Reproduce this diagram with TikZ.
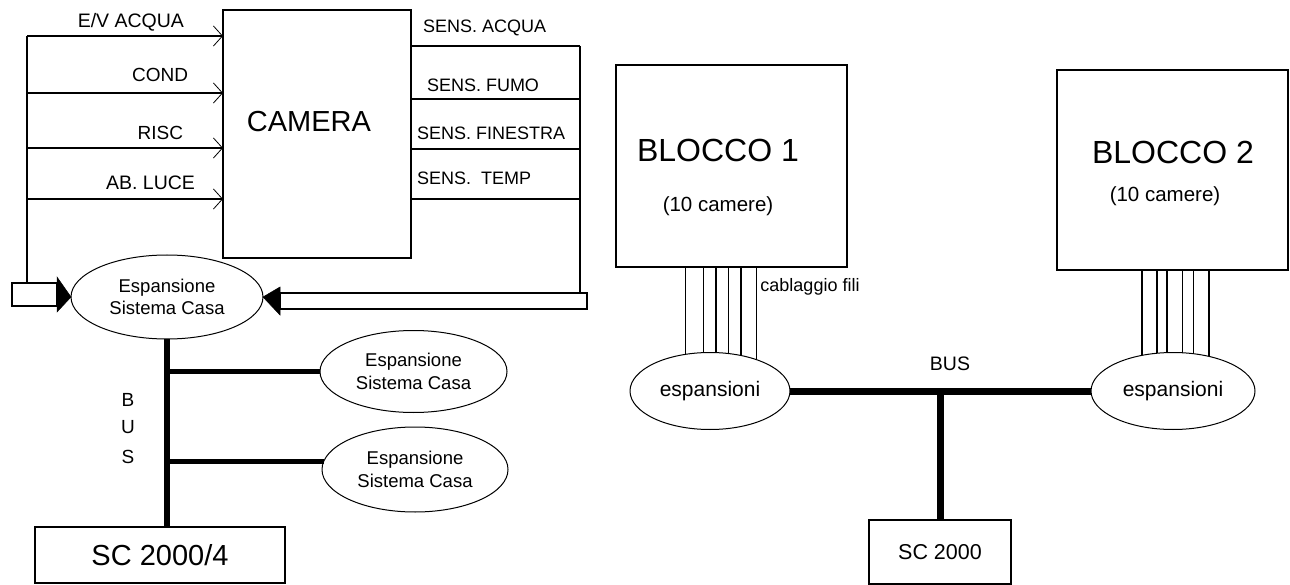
\documentclass[tikz,border=0pt]{standalone}
\usepackage{fontspec}
\setmainfont{Liberation Sans}
\usetikzlibrary{shapes.geometric,arrows.meta}
\newcommand{\myfs}[1]{\fontsize{#1}{#1}\selectfont}
\tikzset{
  box/.style={draw, line width=1.2pt, inner sep=0pt, outer sep=0pt},
  ell/.style={draw, ellipse, line width=1pt, inner sep=0pt, outer sep=0pt, align=center},
  wire/.style={line width=1.2pt},
  fwire/.style={line width=1.3pt},
  lbus/.style={line width=5.5pt},
  rbus/.style={line width=7pt},
  inarr/.style={line width=1.2pt, -{Straight Barb[length=9pt,width=20pt,line width=0.8pt]}},
  txt/.style={inner sep=0pt, outer sep=0pt},
  blockhead/.style={fill=black, draw=black, line width=0.5pt},
}
\begin{document}
\begin{tikzpicture}[x=1pt,y=-1pt]
\useasboundingbox (0,0) rectangle (1290,585);

% ---------------- left part ----------------
\node[box, minimum width=188pt, minimum height=248pt] (camera) at (317,134) {};
\node[txt, font=\myfs{29}] (camlbl) at (309,122) {CAMERA};

% input lines
\coordinate (i1) at (27,36);
\coordinate (i2) at (27,93);
\coordinate (i3) at (27,148);
\coordinate (i4) at (27,199);
\node[box, minimum width=45pt, minimum height=23pt] (arrL) at (34.5,294.5) {};
\draw[wire] (i1) -- (arrL.north -| i1);
\foreach \c in {i1,i2,i3,i4} \draw[inarr] (\c) -- (\c -| camera.west);

\node[txt, anchor=east, font=\myfs{19.5}] (lb1) at (184,22) {E/V ACQUA};
\node[txt, anchor=east, font=\myfs{19}] (lb2) at (188,75) {COND};
\node[txt, anchor=east, font=\myfs{19}] (lb3) at (183,133) {RISC};
\node[txt, anchor=east, font=\myfs{19.5}] (lb4) at (195,183) {AB. LUCE};

% sensor lines
\coordinate (s1) at (580,46);
\coordinate (s2) at (580,99);
\coordinate (s3) at (580,149);
\coordinate (s4) at (580,199);
\node[box, minimum width=307pt, minimum height=16pt] (arrR) at (433.5,301) {};
\draw[wire] (s1) -- (arrR.north -| s1);
\foreach \c in {s1,s2,s3,s4} \draw[wire] (camera.east |- \c) -- (\c);

\node[txt, anchor=west, font=\myfs{18}] (sl1) at (423,28) {SENS. ACQUA};
\node[txt, anchor=west, font=\myfs{18}] (sl2) at (427,85) {SENS. FUMO};
\node[txt, anchor=west, font=\myfs{18}] (sl3) at (417,133) {SENS. FINESTRA};
\node[txt, anchor=west, font=\myfs{18}] (sl4) at (417,178) {SENS.\ \ TEMP};

% expansion ellipses
\node[ell, minimum width=192pt, minimum height=84pt, font=\myfs{18.5}] (esp1) at (167,297) {Espansione\\[4pt]Sistema Casa};
\node[ell, minimum width=187pt, minimum height=82pt, font=\myfs{18.5}] (esp2) at (413.5,371.5) {Espansione\\[4pt]Sistema Casa};
\node[ell, minimum width=186pt, minimum height=85pt, font=\myfs{18.5}] (esp3) at (415,469.5) {Espansione\\[4pt]Sistema Casa};

% block arrow heads
\filldraw[blockhead] ([yshift=17.5pt]arrL.east) -- (esp1.west) -- ([yshift=-17.5pt]arrL.east) -- cycle;
\filldraw[blockhead] ([yshift=14pt]arrR.west) -- (esp1.east) -- ([yshift=-14pt]arrR.west) -- cycle;

% SC 2000/4
\node[box, minimum width=250pt, minimum height=56pt, font=\myfs{29}] (sc4) at (160,555) {SC 2000/4};

% bus
\draw[lbus] (esp1.south) -- (esp1.south |- sc4.north);
\draw[lbus] (esp1.south |- esp2.west) -- (esp2.west);
\draw[lbus] (esp1.south |- esp3.175) -- (esp3.175);
\node[txt, font=\myfs{19}] (bB) at (128,400) {B};
\node[txt, font=\myfs{19}] (bU) at (128,427) {U};
\node[txt, font=\myfs{19}] (bS) at (128,457) {S};

% ---------------- right part ----------------
\node[box, minimum width=231pt, minimum height=202pt] (blocco1) at (731.5,166) {};
\node[txt, font=\myfs{32}] (b1t) at (718,150) {BLOCCO 1};
\node[txt, font=\myfs{20.5}] (b1s) at (718,206) {(10 camere)};

\node[box, minimum width=231pt, minimum height=200pt] (blocco2) at (1172.5,170) {};
\node[txt, font=\myfs{32}] (b2t) at (1173,152) {BLOCCO 2};
\node[txt, font=\myfs{20.5}] (b2s) at (1165,196) {(10 camere)};

\node[ell, minimum width=160pt, minimum height=77pt, font=\myfs{21}] (espA) at (710,391) {espansioni};
\node[ell, minimum width=164pt, minimum height=77pt, font=\myfs{21}] (espB) at (1173,391) {espansioni};

\foreach \a in {124.7,100.5,81,64.1,49.6,34.9}
  \draw[fwire] (espA.\a |- blocco1.south) -- (espA.\a);
\foreach \a in {131.4,113.2,99,76.6,61.5,44.5}
  \draw[fwire] (espB.\a |- blocco2.south) -- (espB.\a);

\node[txt, font=\myfs{18}] (cab) at (810,287) {cablaggio fili};

\node[box, minimum width=142pt, minimum height=64pt, font=\myfs{21.5}] (sc) at (940,552) {SC 2000};
\draw[rbus] (espA.east) -- (espB.west);
\draw[rbus] (sc.north) -- (sc.north |- espA.east);
\node[txt, font=\myfs{19.5}] (buslbl) at (950,364) {BUS};

\end{tikzpicture}
\end{document}
